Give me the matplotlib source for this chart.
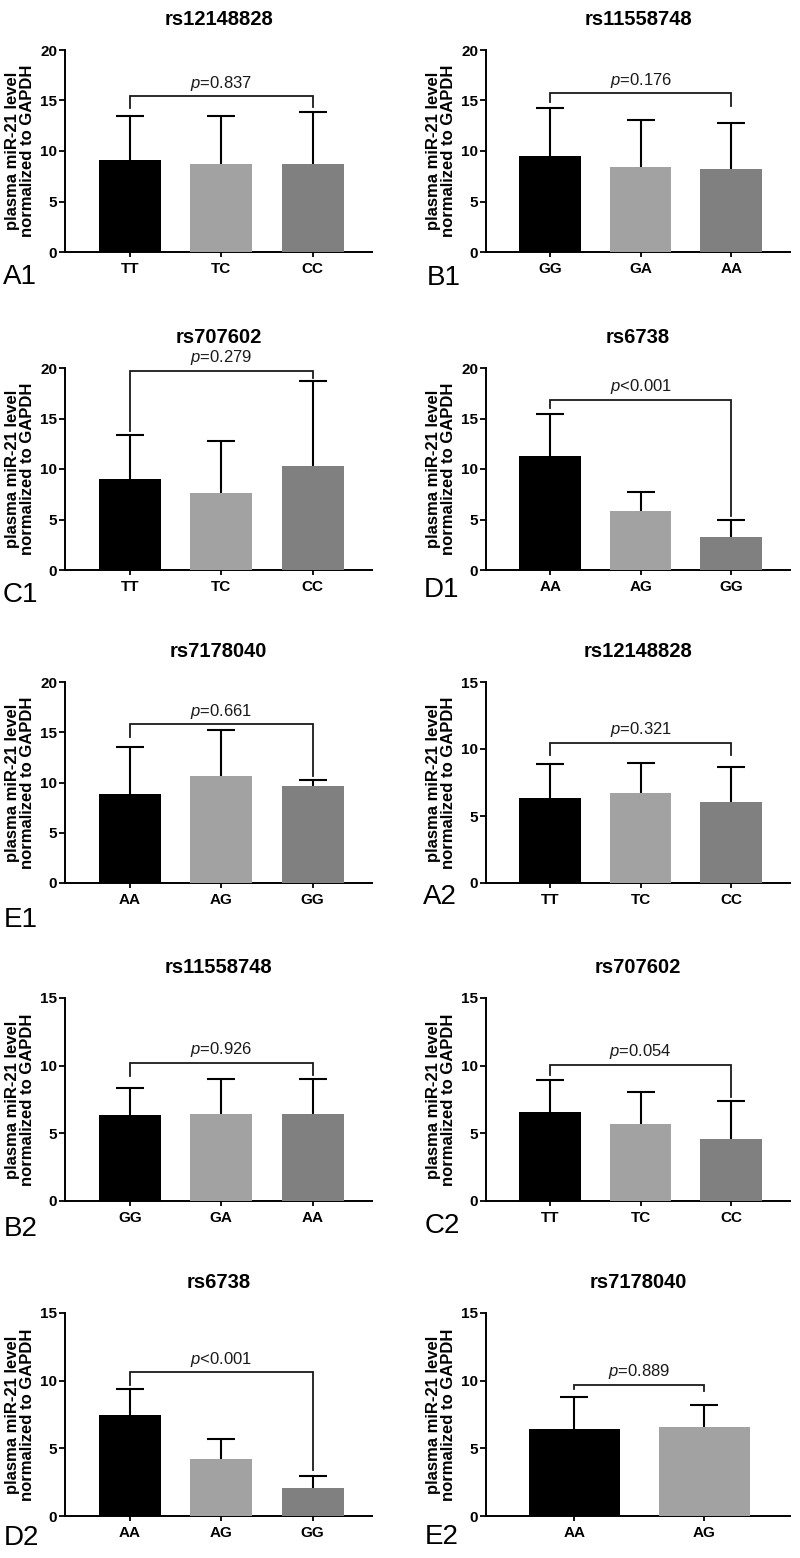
import matplotlib
matplotlib.use('Agg')
import matplotlib.pyplot as plt

plt.rcParams['font.family'] = ['Liberation Sans', 'DejaVu Sans']
plt.rcParams['mathtext.fontset'] = 'custom'
plt.rcParams['mathtext.it'] = 'Liberation Sans:italic'
plt.rcParams['mathtext.rm'] = 'Liberation Sans'

# ---------------- data ----------------
panel_labels = ['A1', 'B1', 'C1', 'D1', 'E1', 'A2', 'B2', 'C2', 'D2', 'E2']
titles = ['rs12148828', 'rs11558748', 'rs707602', 'rs6738', 'rs7178040',
          'rs12148828', 'rs11558748', 'rs707602', 'rs6738', 'rs7178040']

geno_rs12148828 = ['TT', 'TC', 'CC']
geno_rs11558748 = ['GG', 'GA', 'AA']
geno_rs707602 = ['TT', 'TC', 'CC']
geno_rs6738 = ['AA', 'AG', 'GG']
geno_rs7178040_1 = ['AA', 'AG', 'GG']
geno_rs7178040_2 = ['AA', 'AG']

mean_A1 = [9.1, 8.7, 8.7]
sd_A1 = [4.4, 4.75, 5.2]
mean_B1 = [9.55, 8.45, 8.25]
sd_B1 = [4.75, 4.6, 4.55]
mean_C1 = [9.0, 7.65, 10.3]
sd_C1 = [4.36, 5.15, 8.45]
mean_D1 = [11.25, 5.8, 3.3]
sd_D1 = [4.2, 1.9, 1.65]
mean_E1 = [8.85, 10.68, 9.62]
sd_E1 = [4.7, 4.57, 0.58]
mean_A2 = [6.32, 6.7, 6.07]
sd_A2 = [2.53, 2.23, 2.61]
mean_B2 = [6.35, 6.45, 6.42]
sd_B2 = [2.03, 2.57, 2.6]
mean_C2 = [6.55, 5.71, 4.57]
sd_C2 = [2.42, 2.37, 2.84]
mean_D2 = [7.44, 4.2, 2.08]
sd_D2 = [1.93, 1.46, 0.89]
mean_E2 = [6.4, 6.55]
sd_E2 = [2.42, 1.63]

y_max = [20, 20, 20, 20, 20, 15, 15, 15, 15, 15]
p_text = ['=0.837', '=0.176', '=0.279', '<0.001', '=0.661',
          '=0.321', '=0.926', '=0.054', '<0.001', '=0.889']
bracket_y = [15.4, 15.7, 19.75, 16.85, 15.8, 10.45, 10.23, 10.06, 10.63, 9.69]
bracket_left_end = [14.3, 14.9, 13.75, 16.0, 14.55, 9.55, 9.2, 9.32, 9.7, 9.37]
bracket_right_end = [14.4, 14.5, 19.0, 5.35, 10.6, 9.55, 9.3, 7.7, 3.4, 9.2]

genotypes = [geno_rs12148828, geno_rs11558748, geno_rs707602, geno_rs6738, geno_rs7178040_1,
             geno_rs12148828, geno_rs11558748, geno_rs707602, geno_rs6738, geno_rs7178040_2]
means = [mean_A1, mean_B1, mean_C1, mean_D1, mean_E1, mean_A2, mean_B2, mean_C2, mean_D2, mean_E2]
sds = [sd_A1, sd_B1, sd_C1, sd_D1, sd_E1, sd_A2, sd_B2, sd_C2, sd_D2, sd_E2]

bar_colors = ['#000000', '#a2a2a2', '#808080']

# ---------------- layout ----------------
W, H = 800, 1558
fig = plt.figure(figsize=(W / 100, H / 100), dpi=100)

rows_px = [(50, 252), (368, 570), (682, 883), (998, 1201), (1313, 1516)]
cols_px = [(65, 372), (486, 790)]
label_pos = [(3, 277), (427, 278), (3, 595), (424, 590), (4, 920),
             (423, 897), (4, 1229), (425, 1226), (4, 1538), (425, 1537)]

for i in range(10):
    r, c = divmod(i, 2)
    top, bot = rows_px[r]
    x0, x1 = cols_px[c]
    ax = fig.add_axes([x0 / W, 1 - bot / H, (x1 - x0) / W, (bot - top) / H])
    g = genotypes[i]
    n = len(g)
    xs = list(range(n))
    if n == 3:
        width = 0.68
        ax.set_xlim(-0.71, 2.65)
    else:
        width = 0.70
        ax.set_xlim(-0.68, 1.66)
    ax.bar(xs, means[i], width=width, color=bar_colors[:n], linewidth=0, zorder=3)
    # symmetric error bars drawn behind the bars, so only the upper half shows
    ax.errorbar(xs, means[i], yerr=sds[i], fmt='none', ecolor='black',
                elinewidth=1.5, capsize=10, capthick=1.5, zorder=2)
    # significance bracket
    xl, xr = 0, n - 1
    by = bracket_y[i]
    ax.plot([xl, xl, xr, xr], [bracket_left_end[i], by, by, bracket_right_end[i]],
             color='#1a1a1a', lw=1.3, zorder=4, solid_joinstyle='miter', clip_on=False)
    ax.annotate('$p$' + p_text[i], xy=((xl + xr) / 2, by), xytext=(0, 2.5),
                textcoords='offset points', ha='center', va='bottom',
                fontsize=12, color='#1a1a1a')

    ax.set_ylim(0, y_max[i])
    ax.set_yticks(range(0, y_max[i] + 1, 5))
    ax.set_xticks(xs)
    ax.set_xticklabels(g)
    for lab in ax.get_xticklabels() + ax.get_yticklabels():
        lab.set_fontweight('bold')
        lab.set_fontsize(11)
    ax.tick_params(axis='y', direction='out', length=4, width=1.3, pad=1.5)
    ax.tick_params(axis='x', direction='out', length=3.5, width=1.3, pad=4)
    for s in ['top', 'right']:
        ax.spines[s].set_visible(False)
    for s in ['left', 'bottom']:
        ax.spines[s].set_linewidth(1.4)
    ax.set_title(titles[i], fontsize=14.5, fontweight='bold', pad=18)
    ax.set_ylabel('plasma miR-21 level\nnormalized to GAPDH', fontsize=12,
                  fontweight='bold', linespacing=1.0)
    ax.yaxis.set_label_coords(-0.098, 0.5)

    lx, ly = label_pos[i]
    fig.text(lx / W, 1 - ly / H, panel_labels[i], fontsize=20, ha='left', va='center')

fig.savefig('out.png', dpi=100)
